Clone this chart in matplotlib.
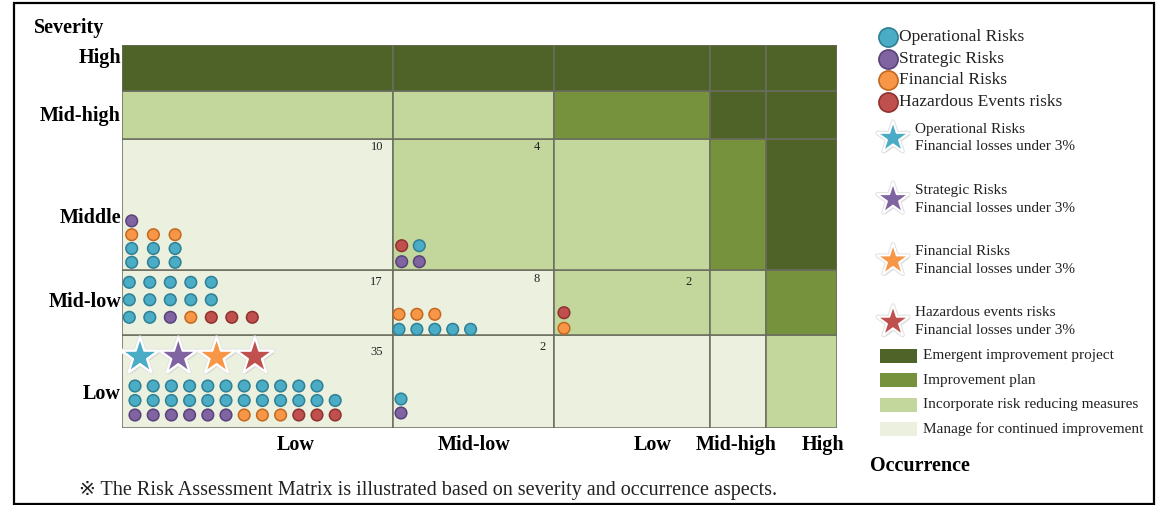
import numpy as np
import matplotlib.pyplot as plt
from matplotlib import patches
from matplotlib import patheffects as pe

plt.rcParams['font.family'] = ['Liberation Serif', 'DejaVu Sans']

# severity rows (bottom to top) and occurrence columns (left to right, as printed)
severity = ['Low', 'Mid-low', 'Middle', 'Mid-high', 'High']
occurrence = ['Low', 'Mid-low', 'Low', 'Mid-high', 'High']

zones = ['Emergent improvement project', 'Improvement plan',
         'Incorporate risk reducing measures', 'Manage for continued improvement']
zone_colors = ['#4f6228', '#76923c', '#c3d69b', '#ebf1de']

# zone index of every cell, rows bottom to top
zone_grid = [
    [3, 3, 3, 3, 2],   # Low
    [3, 3, 2, 2, 1],   # Mid-low
    [3, 2, 2, 1, 0],   # Middle
    [2, 2, 1, 0, 0],   # Mid-high
    [0, 0, 0, 0, 0],   # High
]

risk_types = ['Operational Risks', 'Strategic Risks', 'Financial Risks', 'Hazardous Events risks']
risk_codes = 'OSFH'
risk_fill = ['#4bacc6', '#8064a2', '#f79646', '#c0504d']
risk_edge = ['#2f7f95', '#59427a', '#c2691f', '#8e3230']

# risks found in each (row, col) cell, one string per dot row from the bottom up
cell_risks = {
    (2, 0): ['OOO', 'OOO', 'FFF', 'S'],
    (2, 1): ['SS', 'HO'],
    (1, 0): ['OOSFHHH', 'OOOOO', 'OOOOO'],
    (1, 1): ['OOOOO', 'FFF'],
    (1, 2): ['F', 'H'],
    (0, 0): ['SSSSSSFFFHHH', 'OOOOOOOOOOOO', 'OOOOOOOOOOO'],
    (0, 1): ['S', 'O'],
}

# categories with financial losses under 3% (stars in the Low/Low cell)
star_risks = 'OSFH'
star_labels = ['Operational Risks', 'Strategic Risks', 'Financial Risks', 'Hazardous events risks']

footnote = '\u203b The Risk Assessment Matrix is illustrated based on severity and occurrence aspects.'

# ---- layout (pixel-like units) ----
W, H = 1162, 505
col_w = [271, 161, 156, 56, 71]
row_h = [93, 65, 131, 48, 46]
col_edges = np.concatenate([[0], np.cumsum(col_w)])
row_edges = np.concatenate([[0], np.cumsum(row_h)])
grid_left, grid_top = 122, 45

# first dot x, x step, first dot y, y step, count label inset right, inset top
dot_layout = {
    (2, 0): (9.7, 21.7, 7.7, 13.8, 10, 8),
    (2, 1): (8.7, 17.6, 8.3, 16.0, 14.5, 8),
    (1, 0): (7.3, 20.5, 17.7, 17.5, 10.5, 12),
    (1, 1): (6.0, 17.9, 5.7, 15.0, 14.5, 8.7),
    (1, 2): (10.0, 18.0, 6.7, 15.6, 18.5, 12),
    (0, 0): (13.0, 18.2, 13.0, 14.5, 10.5, 17),
    (0, 1): (8.0, 18.0, 15.0, 14.0, 8.5, 12),
}
row_label_y = [394, 302, 218, 116, 58]
col_label_x = [296, 474, 653, 736, 823]

fig = plt.figure(figsize=(W / 100, H / 100), dpi=100)

ax = fig.add_axes([grid_left / W, (H - grid_top - row_edges[-1]) / H,
                   col_edges[-1] / W, row_edges[-1] / H])
ax.set_xlim(0, col_edges[-1])
ax.set_ylim(0, row_edges[-1])
ax.axis('off')

# zone cells
for r in range(len(severity)):
    for c in range(len(occurrence)):
        z = zone_grid[r][c]
        ax.add_patch(patches.Rectangle((col_edges[c], row_edges[r]), col_w[c], row_h[r],
                                       facecolor=zone_colors[z], edgecolor='#6a6d5e',
                                       linewidth=1.1, zorder=1))

# risk dots and the count in each cell
for (r, c), rows in cell_risks.items():
    x0, dx, y0, dy, inr, intop = dot_layout[(r, c)]
    xs, ys, fc, ec = [], [], [], []
    for i, line in enumerate(rows):
        for j, code in enumerate(line):
            k = risk_codes.index(code)
            xs.append(col_edges[c] + x0 + j * dx)
            ys.append(row_edges[r] + y0 + i * dy)
            fc.append(risk_fill[k])
            ec.append(risk_edge[k])
    ax.scatter(xs, ys, s=70, c=fc, edgecolors=ec, linewidths=1.1, zorder=3)
    ax.text(col_edges[c + 1] - inr, row_edges[r + 1] - intop, str(len(xs)),
            ha='right', va='center', fontsize=9, color='#222222', zorder=4)

star_fx = [pe.SimplePatchShadow(offset=(1.2, -1.5), shadow_rgbFace='#777777', alpha=0.35),
           pe.withStroke(linewidth=3.2, foreground='#e4e4e4'), pe.Normal()]

sx = col_edges[0] + 18 + 38.3 * np.arange(len(star_risks))
sy = np.full(len(star_risks), row_edges[1] - 21.7)
ax.scatter(sx, sy, s=760, marker='*', c=[risk_fill[risk_codes.index(k)] for k in star_risks],
           edgecolors='white', linewidths=1.5, zorder=5, path_effects=star_fx)

# overlay in figure pixels for labels, legend and frame
lay = fig.add_axes([0, 0, 1, 1])
lay.set_xlim(0, W)
lay.set_ylim(H, 0)
lay.axis('off')
lay.patch.set_alpha(0)

bold = dict(fontsize=14.5, fontweight='bold', color='black')
lay.text(34, 28, 'Severity', ha='left', va='center', **bold)
for name, y in zip(severity, row_label_y):
    lay.text(121, y, name, ha='right', va='center', **bold)
for name, x in zip(occurrence, col_label_x):
    lay.text(x, 445, name, ha='center', va='center', **bold)
lay.text(870, 466, 'Occurrence', ha='left', va='center', **bold)

lay.text(79, 490, footnote, ha='left', va='center', fontsize=14.5, color='#222222')

# legend: risk categories
for k, name in enumerate(risk_types):
    y = 37 + 21.6 * k
    lay.scatter([888], [y], s=190, c=risk_fill[k], edgecolors=risk_edge[k], linewidths=1.2)
    lay.text(899, y, name, ha='left', va='center', fontsize=12.5, color='#222222')

# legend: losses under 3%
for k, code in enumerate(star_risks):
    y = 138 + 61.3 * k
    lay.scatter([893], [y], s=560, marker='*', c=risk_fill[risk_codes.index(code)],
                edgecolors='white', linewidths=1.3, path_effects=star_fx)
    lay.text(915, y, star_labels[k] + '\nFinancial losses under 3%', ha='left', va='center',
             fontsize=11, linespacing=1.5, color='#222222')

# legend: zones
for k, name in enumerate(zones):
    y = 356 + 24.4 * k
    lay.add_patch(patches.Rectangle((880, y - 7), 37, 14, facecolor=zone_colors[k], edgecolor='none'))
    lay.text(923, y, name, ha='left', va='center', fontsize=11, color='#222222')

# outer frame
lay.add_patch(patches.Rectangle((14, 2.5), 1140, 501, fill=False, edgecolor='black', linewidth=1.6))

fig.savefig('out.png', dpi=100)
